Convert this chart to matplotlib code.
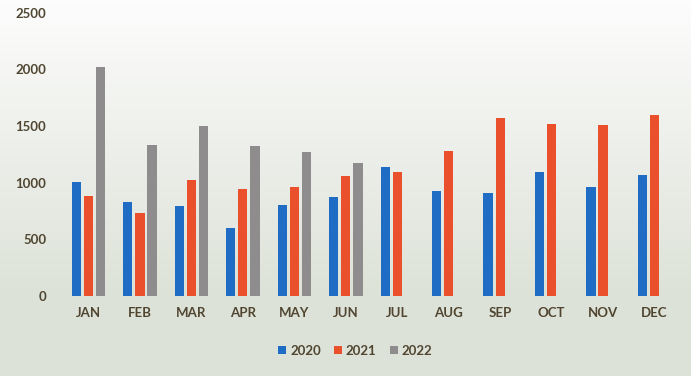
import matplotlib.pyplot as plt
import numpy as np

months = ["JAN", "FEB", "MAR", "APR", "MAY", "JUN",
          "JUL", "AUG", "SEP", "OCT", "NOV", "DEC"]
sales_2020 = [1010, 830, 790, 600, 800, 870, 1140, 930, 910, 1090, 960, 1070]
sales_2021 = [880, 730, 1020, 940, 960, 1060, 1090, 1280, 1570, 1520, 1510, 1600]
sales_2022 = [2020, 1330, 1500, 1320, 1270, 1170]
years = ["2020", "2021", "2022"]
colors = ["#1f6cc4", "#e9502b", "#8e8c8c"]
text_col = "#4f4530"

plt.rcParams['font.family'] = ['Lato', 'DejaVu Sans']

fig = plt.figure(figsize=(6.91, 3.76), dpi=100)

# faded scan-like background: white at top, pale green-grey lower down
bg = fig.add_axes([0, 0, 1, 1], zorder=-10)
grad = np.linspace(0, 1, 256)[:, None]
top = np.array([0.99, 0.99, 0.99])
bot = np.array([0.87, 0.89, 0.85])
img = top + (bot - top) * np.clip(grad * 1.3, 0, 1)[..., None]
bg.imshow(img, aspect='auto', extent=[0, 1, 0, 1])
bg.axis('off')

ax = fig.add_axes([0.087, 0.213, 0.905, 0.753])
ax.patch.set_alpha(0)

x = np.arange(len(months))
w = 0.18
gap = 0.235
ax.bar(x - gap, sales_2020, w, color=colors[0], label=years[0])
ax.bar(x, sales_2021, w, color=colors[1], label=years[1])
ax.bar(x[:len(sales_2022)] + gap, sales_2022, w, color=colors[2], label=years[2])

ax.set_ylim(0, 2500)
ax.set_xlim(-0.55, 11.6)
ax.set_yticks(range(0, 2501, 500))
ax.set_xticks(x)
ax.set_xticklabels(months)
for s in ax.spines.values():
    s.set_visible(False)
ax.tick_params(length=0, colors=text_col, labelsize=9.5, pad=8)
ax.tick_params(axis='y', pad=10)
for lab in ax.get_xticklabels() + ax.get_yticklabels():
    lab.set_fontweight('bold')

leg = ax.legend(loc='upper center', bbox_to_anchor=(0.472, -0.13), ncol=3,
                frameon=False, handlelength=0.6, handleheight=0.6,
                handletextpad=0.3, columnspacing=1.0, fontsize=9.5)
for t in leg.get_texts():
    t.set_color(text_col)
    t.set_fontweight('bold')

fig.savefig("out.png", dpi=100)
